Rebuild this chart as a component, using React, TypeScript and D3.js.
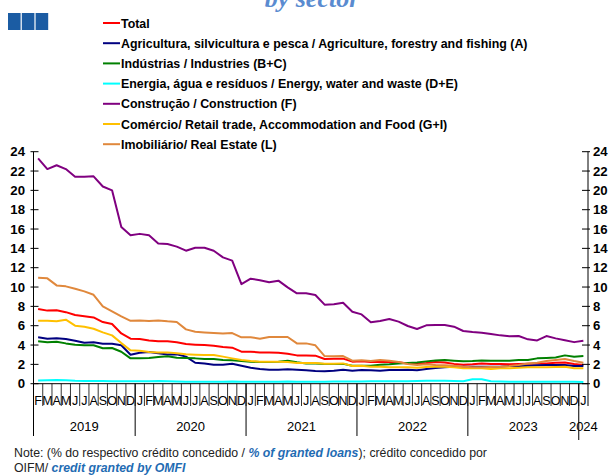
import React from "react";
import * as d3 from "d3";

const MONTH_LETTERS = ["J", "F", "M", "A", "M", "J", "J", "A", "S", "O", "N", "D"];
const YEARS = ["2019", "2020", "2021", "2022", "2023", "2024"];
const START = { year: 2019, month: 1 }; // Feb 2019 (0-based month)
const N_MONTHS = 60; // Feb 2019 .. Jan 2024

const total = [
  7.73, 7.56, 7.6, 7.4, 7.1, 6.97, 6.86, 6.38, 6.17, 5.2, 4.66, 4.62, 4.48, 4.38, 4.38,
  4.28, 4.1, 4.04, 4.0, 3.93, 3.79, 3.73, 3.31, 3.31, 3.24, 3.24, 3.21, 3.1, 2.93, 2.93, 2.9,
  2.55, 2.59, 2.59, 2.28, 2.31, 2.24, 2.24, 2.24, 2.21, 2.1, 2.07, 2.14, 2.24, 2.2,
  2.05, 1.95, 2.0, 2.1, 2.03, 2.03, 2.0, 2.03, 2.07, 2.1, 2.1, 2.17, 2.2, 2.03, 1.93,
];
const agriculture = [
  4.8, 4.66, 4.7, 4.62, 4.45, 4.24, 4.28, 4.14, 4.14, 3.97, 3.0, 3.2, 3.28, 3.14, 3.03,
  3.04, 2.8, 2.17, 2.1, 1.97, 1.97, 2.07, 1.86, 1.66, 1.52, 1.45, 1.45, 1.49, 1.45, 1.38, 1.31,
  1.28, 1.35, 1.45, 1.35, 1.41, 1.38, 1.35, 1.41, 1.41, 1.45, 1.38, 1.52, 1.62, 1.69,
  1.76, 1.76, 1.76, 1.76, 1.76, 1.76, 1.83, 1.83, 1.86, 1.9, 1.93, 1.93, 1.93, 1.83, 1.83,
];
const industries = [
  4.38, 4.28, 4.35, 4.17, 4.03, 3.97, 3.97, 3.66, 3.69, 3.31, 2.62, 2.62, 2.66, 2.76, 2.83,
  2.69, 2.66, 2.62, 2.55, 2.55, 2.45, 2.42, 2.35, 2.28, 2.24, 2.24, 2.28, 2.38, 2.21, 2.1, 2.1,
  2.05, 2.05, 2.05, 1.85, 1.85, 1.85, 1.95, 2.0, 2.1, 2.15, 2.2, 2.31, 2.41, 2.45,
  2.38, 2.31, 2.34, 2.41, 2.38, 2.38, 2.38, 2.45, 2.45, 2.62, 2.66, 2.72, 2.93, 2.79, 2.86,
];
const energy = [
  0.33, 0.35, 0.38, 0.35, 0.3, 0.28, 0.28, 0.27, 0.26, 0.25, 0.25, 0.25, 0.26, 0.27, 0.25,
  0.22, 0.2, 0.2, 0.2, 0.2, 0.2, 0.22, 0.2, 0.2, 0.2, 0.2, 0.2, 0.22, 0.2, 0.2, 0.2,
  0.2, 0.22, 0.22, 0.22, 0.22, 0.25, 0.25, 0.25, 0.25, 0.25, 0.28, 0.3, 0.3, 0.3,
  0.28, 0.25, 0.45, 0.45, 0.25, 0.22, 0.2, 0.2, 0.2, 0.2, 0.2, 0.2, 0.2, 0.2, 0.18,
];
const construction = [
  23.3, 22.2, 22.6, 22.2, 21.4, 21.4, 21.45, 20.4, 20.0, 16.2, 15.35, 15.5, 15.35, 14.5, 14.45,
  14.18, 13.76, 14.07, 14.07, 13.76, 13.07, 12.73, 10.3, 10.86, 10.7, 10.5, 10.66, 9.97, 9.35, 9.35, 9.18,
  8.18, 8.21, 8.38, 7.45, 7.17, 6.35, 6.49, 6.69, 6.42, 5.97, 5.66, 6.04, 6.07, 6.07,
  5.9, 5.45, 5.35, 5.28, 5.14, 5.0, 4.9, 4.93, 4.59, 4.48, 4.93, 4.69, 4.5, 4.3, 4.45,
];
const commerce = [
  6.52, 6.52, 6.45, 6.62, 6.0, 5.9, 5.69, 5.31, 5.0, 4.2, 3.45, 3.41, 3.28, 3.24, 3.24,
  3.14, 3.04, 3.0, 2.97, 2.97, 2.8, 2.62, 2.45, 2.35, 2.28, 2.28, 2.28, 2.24, 2.14, 2.14, 2.14,
  2.07, 2.07, 2.1, 1.83, 1.86, 1.76, 1.76, 1.69, 1.69, 1.69, 1.66, 1.72, 1.79, 1.76,
  1.69, 1.59, 1.59, 1.59, 1.52, 1.59, 1.59, 1.66, 1.69, 1.69, 1.69, 1.72, 1.76, 1.59, 1.59,
];
const realEstate = [
  10.96, 10.9, 10.17, 10.07, 9.83, 9.55, 9.2, 8.0, 7.48, 6.97, 6.5, 6.55, 6.48, 6.55, 6.45,
  6.38, 5.62, 5.38, 5.3, 5.24, 5.2, 5.24, 4.8, 4.8, 4.66, 4.83, 4.83, 4.83, 4.17, 4.17, 3.97,
  2.86, 2.83, 2.86, 2.38, 2.42, 2.35, 2.45, 2.38, 2.24, 2.04, 1.93, 2.0, 1.93, 1.9,
  1.85, 1.75, 1.7, 1.7, 1.72, 1.76, 1.83, 1.93, 2.1, 2.17, 2.34, 2.45, 2.55, 2.34, 2.17,
];

const SERIES_LABELS = [
  "Total",
  "Agricultura, silvicultura e pesca / Agriculture, forestry and fishing (A)",
  "Indústrias / Industries (B+C)",
  "Energia, água e resíduos / Energy, water and waste (D+E)",
  "Construção / Construction  (F)",
  "Comércio/ Retail trade, Accommodation and Food (G+I)",
  "Imobiliário/ Real Estate (L)",
];
const SERIES_VALUES = [total, agriculture, industries, energy, construction, commerce, realEstate];
const SERIES_COLORS = ["#ff0000", "#000080", "#008000", "#00ffff", "#800080", "#ffc000", "#e0883c"];
const Y_TICKS = [0, 2, 4, 6, 8, 10, 12, 14, 16, 18, 20, 22, 24];

type Cat = { key: string; year: number; month: number };
const categories: Cat[] = [];
for (let i = 0; i < N_MONTHS; i++) {
  const m = START.month + i;
  const year = START.year + Math.floor(m / 12);
  const month = m % 12;
  categories.push({ key: `${year}-${month + 1}`, year, month });
}

const FONT = "'Liberation Sans', Arial, sans-serif";

export default function App() {
  const left = 33.5;
  const right = 588;
  const y0 = 383.7;
  const yTop = 151.7;

  const x = d3.scaleBand<string>().domain(categories.map((c) => c.key)).range([left, right]).padding(0);
  const y = d3.scaleLinear().domain([0, 24]).range([y0, yTop]);
  const bw = x.bandwidth();

  const line = d3
    .line<number>()
    .x((_, i) => (x(categories[i].key) as number) + bw / 2)
    .y((v) => y(v));

  const yearStarts = YEARS.map((yr) => {
    const idx = categories.findIndex((c) => String(c.year) === yr);
    const idxEnd = categories.length - 1 - [...categories].reverse().findIndex((c) => String(c.year) === yr);
    return { yr, x0: x(categories[idx].key) as number, x1: (x(categories[idxEnd].key) as number) + bw };
  });

  const legendY0 = 23;
  const legendStep = 20.2;

  return (
    <svg
      width={612}
      height={475}
      style={{ position: "absolute", left: 0, top: 0, background: "#fff" }}
      xmlns="http://www.w3.org/2000/svg"
    >
      {/* title (cut off at the top edge, as in the reference) */}
      <text
        x={312}
        y={7}
        textAnchor="middle"
        fontFamily="'Liberation Serif', 'Times New Roman', serif"
        fontStyle="italic"
        fontWeight="bold"
        fontSize={26}
        fill="#5a8bd0"
      >
        by sector
      </text>
      {/* logo */}
      {[8, 21.8, 35.6].map((lx, i) => (
        <rect key={i} x={lx} y={13} width={12.6} height={17} fill="#1b5ca3" />
      ))}

      {/* legend */}
      {SERIES_LABELS.map((lab, i) => {
        const ly = legendY0 + i * legendStep;
        return (
          <g key={lab}>
            <line x1={103} x2={120} y1={ly} y2={ly} stroke={SERIES_COLORS[i]} strokeWidth={2} />
            <text x={121} y={ly + 4.5} fontFamily={FONT} fontWeight="bold" fontSize={12.4} fill="#000">
              {lab}
            </text>
          </g>
        );
      })}

      {/* series */}
      {SERIES_VALUES.map((vals, i) => (
        <path
          key={i}
          d={line(vals) || ""}
          fill="none"
          stroke={SERIES_COLORS[i]}
          strokeWidth={2}
          strokeLinejoin="round"
        />
      ))}

      {/* y axes */}
      <line x1={left} x2={left} y1={yTop} y2={y0} stroke="#000" strokeWidth={1} />
      <line x1={right} x2={right} y1={yTop} y2={y0} stroke="#000" strokeWidth={1} />
      {Y_TICKS.map((t) => (
        <g key={t}>
          <line x1={left - 3} x2={left + 5} y1={y(t)} y2={y(t)} stroke="#000" strokeWidth={1} />
          <line x1={right - 6} x2={right + 2} y1={y(t)} y2={y(t)} stroke="#000" strokeWidth={1} />
          <text
            x={25}
            y={y(t) + 4.7}
            textAnchor="end"
            fontFamily={FONT}
            fontWeight="bold"
            fontSize={13.2}
            fill="#000"
          >
            {t}
          </text>
          <text x={593} y={y(t) + 4.7} fontFamily={FONT} fontWeight="bold" fontSize={13.2} fill="#000">
            {t}
          </text>
        </g>
      ))}

      {/* x axis */}
      <line x1={left} x2={right} y1={y0} y2={y0} stroke="#000" strokeWidth={1} />
      {categories.map((c, i) => {
        const cx = x(c.key) as number;
        return (
          <g key={c.key}>
            {i > 0 && <line x1={cx} x2={cx} y1={y0} y2={406} stroke="#000" strokeWidth={0.8} />}
            <text
              x={cx + bw / 2}
              y={405}
              textAnchor="middle"
              fontFamily={FONT}
              fontSize={12.5}
              fill="#000"
            >
              {MONTH_LETTERS[c.month]}
            </text>
          </g>
        );
      })}
      <line x1={right} x2={right} y1={y0} y2={406} stroke="#000" strokeWidth={1} />
      {yearStarts.map((ys) => (
        <g key={ys.yr}>
          <line x1={ys.x0} x2={ys.x0} y1={y0} y2={ys.yr === "2024" ? 440 : 436} stroke="#000" strokeWidth={1} />
          <text
            x={(ys.x0 + ys.x1) / 2}
            y={431}
            textAnchor="middle"
            fontFamily={FONT}
            fontSize={13}
            fill="#000"
          >
            {ys.yr}
          </text>
        </g>
      ))}

      {/* note */}
      <text x={14} y={457} fontFamily={FONT} fontSize={12.3} fill="#222">
        Note: (% do respectivo crédito concedido /{" "}
        <tspan fontWeight="bold" fontStyle="italic" fill="#1f6cb3">
          % of granted loans
        </tspan>
        ); crédito concedido por
      </text>
      <text x={14} y={472} fontFamily={FONT} fontSize={12.3} fill="#222">
        OIFM/{" "}
        <tspan fontWeight="bold" fontStyle="italic" fill="#1f6cb3">
          credit granted by OMFI
        </tspan>
      </text>
    </svg>
  );
}
